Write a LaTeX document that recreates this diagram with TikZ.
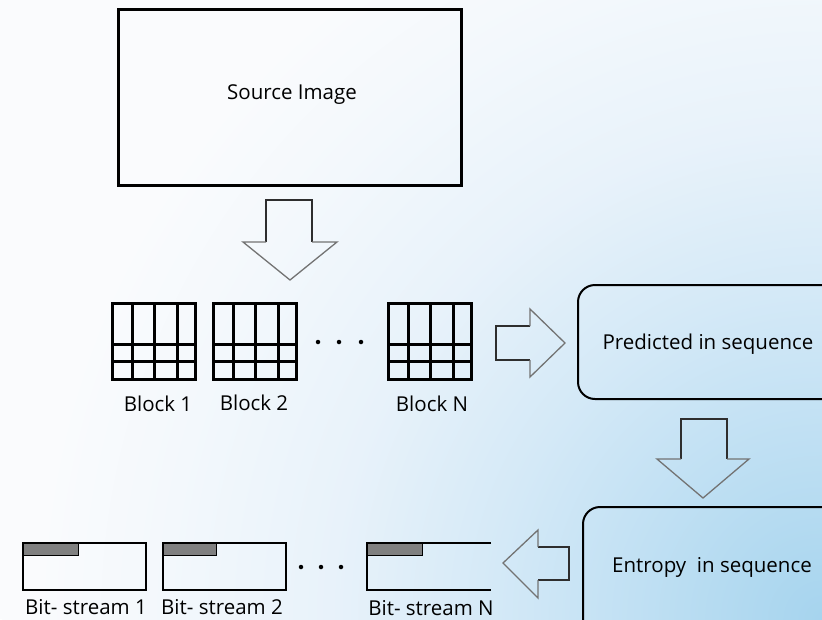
\documentclass[tikz,border=0pt]{standalone}
\usepackage{fontspec}
\setmainfont{Open Sans}
\begin{document}
\definecolor{glowA}{RGB}{166,212,238}
\definecolor{glowB}{RGB}{212,233,247}
\definecolor{glowC}{RGB}{232,242,250}
\definecolor{glowD}{RGB}{243,248,252}
\definecolor{paper}{RGB}{250,251,253}
% radial glow; a circle shaded with it spans 25bp of its radius
\pgfdeclareradialshading{cornerglow}{\pgfpoint{0bp}{0bp}}{%
  color(0bp)=(glowA); color(10bp)=(glowB); color(15bp)=(glowC);
  color(20bp)=(glowD); color(24bp)=(paper); color(50bp)=(paper)}
\begin{tikzpicture}[x=1pt,y=-1pt,
  lbl/.style={font=\fontsize{20.5}{24}\selectfont, inner sep=0pt, text=black},
  thickbox/.style={draw=black, line width=3pt},
  roundbox/.style={draw=black, line width=2pt, rounded corners=17pt},
  gridline/.style={draw=black, line width=3pt},
  streambox/.style={draw=black, line width=2.5pt},
  streambar/.style={fill=black!50, draw=black, line width=0.8pt},
  shaft/.style={draw=black!82, line width=2.4pt},
  head/.style={draw=black!55, line width=1.3pt, line join=miter},
  dot/.style={circle, fill=black, inner sep=0pt, minimum size=4.5pt}]

% page and soft background glow from the lower right corner
\useasboundingbox (0,0) rectangle (822,619);
\clip (0,0) rectangle (822,619);
\fill[paper] (0,0) rectangle (822,619);
\shade[shading=cornerglow] (822,619) circle (820);

% source image
\node[thickbox, minimum width=343pt, minimum height=176pt, anchor=north west,
      inner sep=0pt] (src) at (117,8) {};
\node[lbl] (srclbl) at (292,95) {Source Image};

% downward block arrow below the source image
\draw[shaft] (266,242) -- (266,200) -- (312,200) -- (312,242);
\draw[head] (266,242) -- (243,242) -- (290,280) -- (337,242) -- (312,242);

% the image blocks
\newcommand{\imgblock}[2]{%
  \draw[gridline] (#1,303) rectangle ++(83,76);
  \draw[gridline] (#1+20,303) -- (#1+20,379)
                  (#1+42,303) -- (#1+42,379)
                  (#1+65,303) -- (#1+65,379)
                  (#1,344) -- (#1+83,344)
                  (#1,361) -- (#1+83,361);
  \coordinate (#2) at (#1+41.5,341);}
\imgblock{112}{blk1}
\imgblock{213}{blk2}
\imgblock{388}{blkN}
\node[dot] (bd1) at (318,342) {};
\node[dot] (bd2) at (339,342) {};
\node[dot] (bd3) at (361,342) {};
\node[lbl] (b1lbl) at (158,404) {Block 1};
\node[lbl] (b2lbl) at (254,403) {Block 2};
\node[lbl] (bNlbl) at (432,404) {Block N};

% rightward block arrow
\draw[shaft] (530,326) -- (496,326) -- (496,360) -- (530,360);
\draw[head] (530,326) -- (530,309) -- (565,343) -- (530,377) -- (530,360);

% prediction stage
\draw[roundbox] (578,285) rectangle (850,399);
\node[lbl] (pred) at (708,344) {Predicted in sequence};

% downward block arrow between the stages
\draw[shaft] (681,459) -- (681,419) -- (727,419) -- (727,459);
\draw[head] (681,459) -- (657,459) -- (703,498) -- (749,459) -- (727,459);

% entropy coding stage
\draw[roundbox] (583,507) rectangle (850,660);
\node[lbl] (ent) at (712,567) {Entropy\ \ in sequence};

% leftward block arrow
\draw[shaft] (538,547) -- (569,547) -- (569,580) -- (538,580);
\draw[head] (538,547) -- (538,530) -- (503,563) -- (538,598) -- (538,580);

% bit-streams
\draw[streambar] (23,543) rectangle (78,555);
\draw[streambox] (23,543) rectangle (146,590);
\draw[streambar] (163,543) rectangle (216,555);
\draw[streambox] (163,543) rectangle (286,590);
\draw[streambar] (367,543) rectangle (422,555);
\draw[streambox] (491,543) -- (367,543) -- (367,590) -- (491,590);
\node[dot] (sd1) at (301,567) {};
\node[dot] (sd2) at (321,567) {};
\node[dot] (sd3) at (341,567) {};
\node[lbl] (s1lbl) at (86,607) {Bit- stream 1};
\node[lbl] (s2lbl) at (222,607) {Bit- stream 2};
\node[lbl] (sNlbl) at (431,608) {Bit- stream N};
\end{tikzpicture}
\end{document}
